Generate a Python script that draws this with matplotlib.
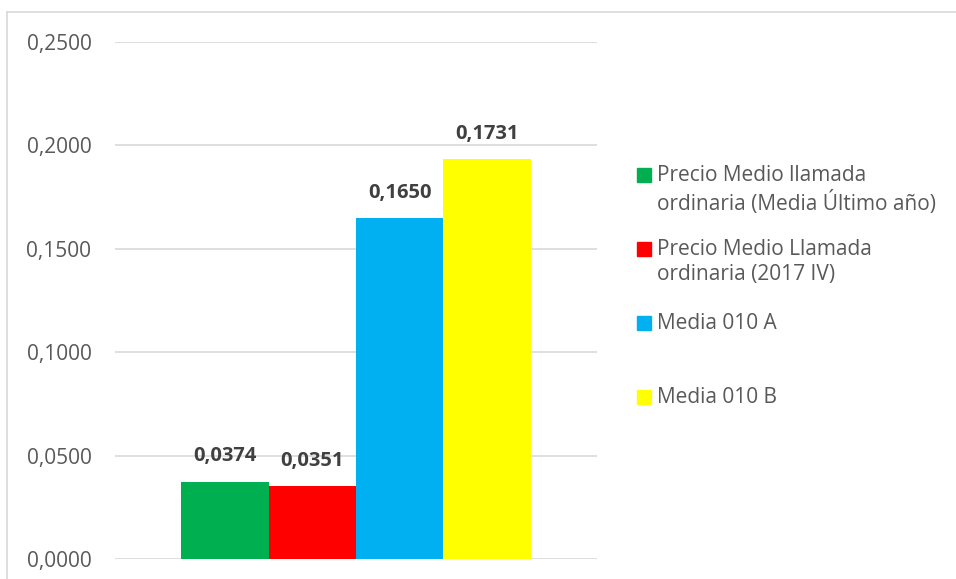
import matplotlib.pyplot as plt
from matplotlib.lines import Line2D
from matplotlib.patches import Rectangle

plt.rcParams["font.family"] = ["Open Sans", "DejaVu Sans"]

# data
series = [
    "Precio Medio llamada\nordinaria (Media Último año)",
    "Precio Medio Llamada\nordinaria (2017 IV)",
    "Media 010 A",
    "Media 010 B",
]
values = [0.0374, 0.0351, 0.1650, 0.1935]
value_labels = ["0,0374", "0,0351", "0,1650", "0,1731"]
colors = ["#00B050", "#FF0000", "#00B0F0", "#FFFF00"]
yticks = [0.0, 0.05, 0.10, 0.15, 0.20, 0.25]

W, H = 956, 579
fig = plt.figure(figsize=(W / 100, H / 100), dpi=100)
ax = fig.add_axes([115 / W, 1 - 559 / H, (597 - 115) / W, (559 - 42) / H])

xs = [i - 1.5 for i in range(len(values))]
ax.bar(xs, values, width=1.0, color=colors, zorder=3)
for x, v, lab in zip(xs, values, value_labels):
    ax.annotate(lab, (x, v), xytext=(0, 11), textcoords="offset points",
                ha="center", va="bottom", fontsize=14.5, fontweight="bold",
                color="#404040")

ax.set_xlim(-2.755, 2.755)
ax.set_ylim(0, 0.25)
ax.set_yticks(yticks)
ax.set_yticklabels([f"{t:.4f}".replace(".", ",") for t in yticks])
ax.tick_params(axis="y", length=0, pad=17, labelsize=15, labelcolor="#595959")
ax.set_xticks([])
ax.grid(axis="y", color="#D9D9D9", linewidth=1.2, zorder=0)
for s in ax.spines.values():
    s.set_visible(False)

# outer chart border (left and top only visible)
fig.add_artist(Line2D([7 / W, 7 / W], [0, 1 - 12 / H], color="#D9D9D9", lw=1.2))
fig.add_artist(Line2D([7 / W, 1], [1 - 12 / H, 1 - 12 / H], color="#D9D9D9", lw=1.2))

# legend drawn by hand to keep Excel-like spacing
leg_y = [175, 249, 323, 397]
for name, col, y in zip(series, colors, leg_y):
    fig.add_artist(Rectangle((637 / W, 1 - (y + 7) / H), 14 / W, 14 / H,
                             color=col, transform=fig.transFigure))
    fig.text(657 / W, 1 - (y - 10) / H, name, ha="left", va="top",
             fontsize=15, color="#595959", linespacing=1.25)

fig.savefig("out.png", dpi=100)
